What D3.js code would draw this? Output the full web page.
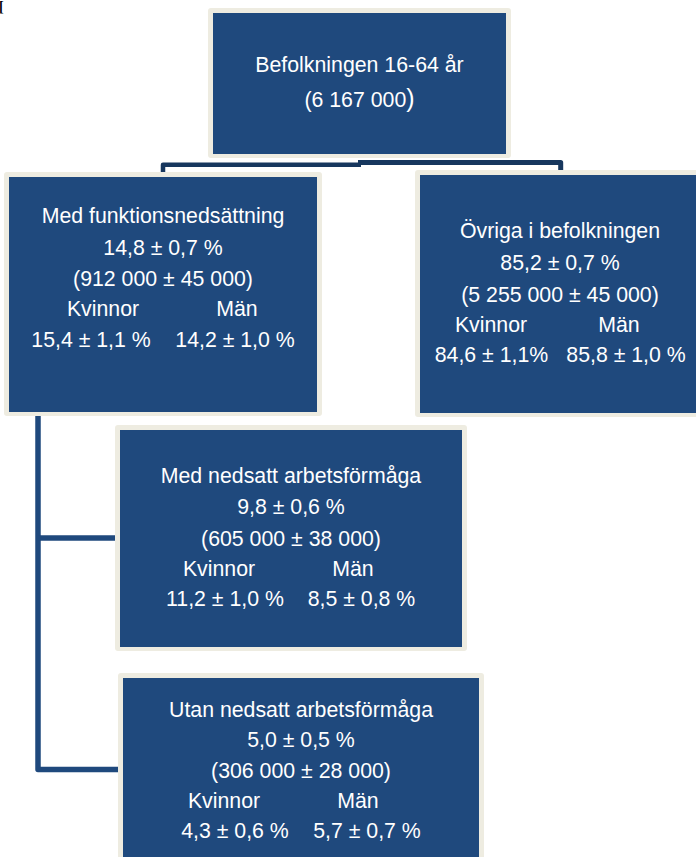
<!DOCTYPE html>
<html>
<head>
<meta charset="utf-8">
<script src="https://cdn.jsdelivr.net/npm/d3@7"></script>
<style>
  html, body { margin: 0; padding: 0; background: #ffffff; }
  svg { display: block; }
  text { font-family: "Liberation Sans", Arial, sans-serif; fill: #ffffff; }
</style>
</head>
<body>
<svg id="chart" width="696" height="857"></svg>
<script>
// ---- data ----
const nodeIds   = ["total", "funk", "ovriga", "nedsatt", "utan"];
const titles    = ["Befolkningen 16-64 år", "Med funktionsnedsättning", "Övriga i befolkningen", "Med nedsatt arbetsförmåga", "Utan nedsatt arbetsförmåga"];
const shares    = [null, "14,8 ± 0,7 %", "85,2 ± 0,7 %", "9,8 ± 0,6 %", "5,0 ± 0,5 %"];
const counts    = ["(6 167 000", "(912 000 ± 45 000)", "(5 255 000 ± 45 000)", "(605 000 ± 38 000)", "(306 000 ± 28 000)"];
const genderLbl = ["Kvinnor", "Män"];
const women     = [null, "15,4 ± 1,1 %", "84,6 ± 1,1%", "11,2 ± 1,0 %", "4,3 ± 0,6 %"];
const men       = [null, "14,2 ± 1,0 %", "85,8 ± 1,0 %", "8,5 ± 0,8 %", "5,7 ± 0,7 %"];

// ---- layout (positions only) ----
const layout = {
  total:   { x: 208, y: 8,   w: 303, h: 150, base: [72, 107], gl: [0, 0], gv: [0, 0] },
  funk:    { x: 4,   y: 172, w: 318, h: 244, base: [223, 255, 286, 316, 347], gl: [-60, 74], gv: [-72, 72] },
  ovriga:  { x: 415, y: 170, w: 290, h: 247, base: [238, 270, 301.5, 331.5, 361.5], gl: [-69, 59], gv: [-68.5, 66] },
  nedsatt: { x: 115, y: 425, w: 352, h: 226, base: [483, 514, 546, 575.5, 606], gl: [-72, 62], gv: [-66, 70.5] },
  utan:    { x: 118, y: 673, w: 366, h: 200, base: [716.5, 746.5, 778, 807.5, 838], gl: [-77, 57], gv: [-66, 66] }
};

const nodes = nodeIds.map((id, i) => ({
  id, title: titles[i], share: shares[i], count: counts[i], women: women[i], men: men[i], ...layout[id]
}));

const svg = d3.select("#chart");
const FS = 21.3;
const BLUE = "#1F497D", BEIGE = "#EEECE1", DARK = "#17375E";

// top-left stray glyph
svg.append("text").attr("x", -1).attr("y", 11)
  .style("font-family", "'Liberation Serif', serif").style("font-weight", "bold")
  .style("font-size", "14px").style("fill", "#000").text("[");

// ---- connectors ----
const line = d3.line().curve(d3.curveLinear);
const conn = svg.append("g").attr("fill", "none").attr("stroke-linejoin", "round").attr("stroke-linecap", "butt");
conn.append("path").attr("d", line([[358, 162.5], [560.7, 162.5], [560.7, 171]]))
  .attr("stroke", DARK).attr("stroke-width", 5);
conn.append("path").attr("d", line([[361, 164.8], [163, 164.8], [163, 173]]))
  .attr("stroke", DARK).attr("stroke-width", 4.5);
conn.append("path").attr("d", line([[38, 415], [38, 769.5], [119, 769.5]]))
  .attr("stroke", BLUE).attr("stroke-width", 5.5);
conn.append("path").attr("d", line([[38, 538], [116, 538]]))
  .attr("stroke", BLUE).attr("stroke-width", 5.5);

// ---- boxes ----
const g = svg.selectAll("g.node").data(nodes).join("g").attr("class", "node");
g.append("rect")
  .attr("x", d => d.x).attr("y", d => d.y).attr("width", d => d.w).attr("height", d => d.h)
  .attr("rx", 3).attr("fill", BEIGE);
g.append("rect")
  .attr("x", d => d.x + 5).attr("y", d => d.y + 5).attr("width", d => d.w - 10).attr("height", d => d.h - 9)
  .attr("fill", BLUE);

g.each(function(d) {
  const sel = d3.select(this);
  const cx = d.x + d.w / 2;
  const t = (y) => sel.append("text").attr("x", cx).attr("y", y)
    .attr("text-anchor", "middle").style("font-size", FS + "px");
  if (d.id === "total") {
    t(d.base[0]).text(d.title);
    const c = t(d.base[1]);
    c.append("tspan").text(d.count);
    c.append("tspan").style("font-size", "25px").text(")");
    return;
  }
  t(d.base[0]).text(d.title);
  t(d.base[1]).text(d.share);
  t(d.base[2]).text(d.count);
  const r1 = sel.append("text").attr("y", d.base[3]).attr("text-anchor", "middle").style("font-size", FS + "px");
  r1.append("tspan").attr("x", cx + d.gl[0]).text(genderLbl[0]);
  r1.append("tspan").attr("x", cx + d.gl[1]).text(genderLbl[1]);
  const r2 = sel.append("text").attr("y", d.base[4]).attr("text-anchor", "middle").style("font-size", FS + "px");
  r2.append("tspan").attr("x", cx + d.gv[0]).text(d.women);
  r2.append("tspan").attr("x", cx + d.gv[1]).text(d.men);
});
</script>
</body>
</html>
